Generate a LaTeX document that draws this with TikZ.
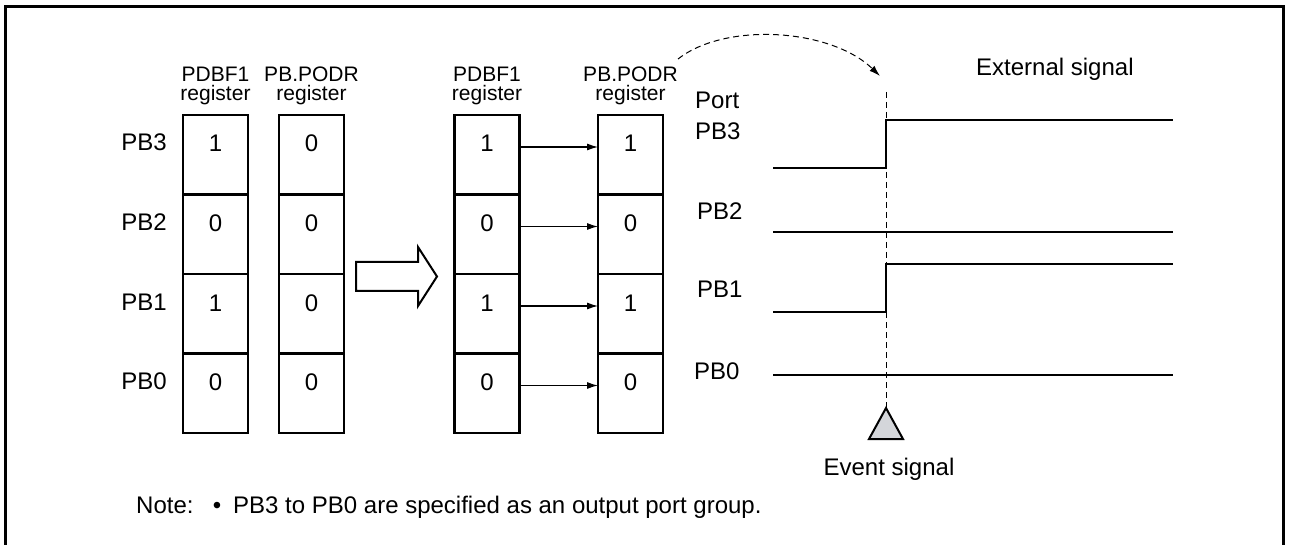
\documentclass[tikz,border=0pt]{standalone}
\usepackage{fontspec}
\setmainfont{Liberation Sans}
\usetikzlibrary{arrows.meta,calc}
\definecolor{evgray}{HTML}{D4D6DA}
\begin{document}
\begin{tikzpicture}[x=1pt,y=-1pt,
  frame/.style={line width=2.8pt},
  cell/.style={draw,line width=2.3pt,minimum width=65pt,minimum height=79.5pt,inner sep=0pt,outer sep=0pt},
  hdr/.style={font=\fontsize{21}{21}\selectfont,inner sep=0pt,anchor=base},
  txt/.style={font=\fontsize{24}{24}\selectfont,inner sep=0pt},
  bitarrow/.style={line width=1.1pt,-{Latex[length=11pt,width=7pt]}},
  wave/.style={line width=2.5pt},
  guide/.style={line width=1pt,dash pattern=on 6pt off 4pt},
  hollow/.style={draw,line width=2pt,line join=miter},
]
\useasboundingbox (0,0) rectangle (1290,545);
\draw[frame] (5.5,545) -- (5.5,6.5) -- (1283.5,6.5) -- (1283.5,545);

% register cells
\foreach \col/\x in {1/215.5,2/311.5,3/487,4/630.5} {
  \foreach \row in {1,...,4} {
    \node[cell] (c\col r\row) at (\x,{115+79.5*(\row-1)+39.75}) {};
  }
}
\foreach \col/\a/\b/\c/\d in {1/1/0/1/0,2/0/0/0/0,3/1/0/1/0,4/1/0/1/0} {
  \node[txt,anchor=base] (v\col a) at ($(c\col r1.north)+(0,37)$) {\a};
  \node[txt,anchor=base] (v\col b) at ($(c\col r2.north)+(0,37)$) {\b};
  \node[txt,anchor=base] (v\col c) at ($(c\col r3.north)+(0,37)$) {\c};
  \node[txt,anchor=base] (v\col d) at ($(c\col r4.north)+(0,37)$) {\d};
}

% left labels
\foreach \row/\lab in {1/PB3,2/PB2,3/PB1,4/PB0} {
  \node[txt,anchor=base east] (l\row) at ($(c1r\row.north west)+(-16,36)$) {\lab};
}

% headers
\node[hdr] (h1a) at (215.5,82) {PDBF1};
\node[hdr] (h1b) at (215.5,101) {register};
\node[hdr] (h2a) at (311.5,82) {PB.PODR};
\node[hdr] (h2b) at (311.5,101) {register};
\node[hdr] (h3a) at (487,82) {PDBF1};
\node[hdr] (h3b) at (487,101) {register};
\node[hdr] (h4a) at (630.5,82) {PB.PODR};
\node[hdr] (h4b) at (630.5,101) {register};

% hollow arrow
\draw[hollow] (356,262) -- (418,262) -- (418,247) -- (437,276.5) -- (418,306) -- (418,291) -- (356,291) -- cycle;

% bit copy arrows
\foreach \row in {1,...,4} {
  \draw[bitarrow] ($(c3r\row.north east)+(0,32)$) -- ($(c4r\row.north west)+(0,32)$);
}

% port labels
\node[txt,anchor=base west] (port) at (695,109) {Port};
\node[txt,anchor=base west] (p3) at (695,140) {PB3};
\node[txt,anchor=base west] (p2) at (697,220) {PB2};
\node[txt,anchor=base west] (p1) at (697,298) {PB1};
\node[txt,anchor=base west] (p0) at (694,379) {PB0};

% waveforms
\draw[wave] (773,168) -- (886,168) -- (886,120) -- (1173,120);
\draw[wave] (773,232) -- (1173,232);
\draw[wave] (773,312) -- (886,312) -- (886,264) -- (1173,264);
\draw[wave] (773,375) -- (1173,375);

% event guide and triangle
\coordinate (gtop) at (886,92);
\coordinate (apex) at (886,408);
\draw[guide] (gtop) -- (apex);
\draw[line width=2pt,fill=evgray,line join=miter] (apex) -- (903,439) -- (869,439) -- cycle;

% dashed curved arrow
\coordinate (cs) at (678,59);
\coordinate (ce) at (880,76);
\draw[guide,-{Latex[length=11pt,width=7pt]}] (cs) .. controls (725,22) and (830,28) .. (ce);

% texts
\node[txt,anchor=base west] (ext) at (976,76) {External signal};
\node[txt,anchor=base] (evt) at (889,475) {Event signal};
\node[txt,anchor=base west] (note) at (136,513) {Note:};
\node[txt,anchor=base] (bul) at (217,513) {\textbullet};
\node[txt,anchor=base west] (notetxt) at (233,513) {PB3 to PB0 are specified as an output port group.};
\end{tikzpicture}
\end{document}
